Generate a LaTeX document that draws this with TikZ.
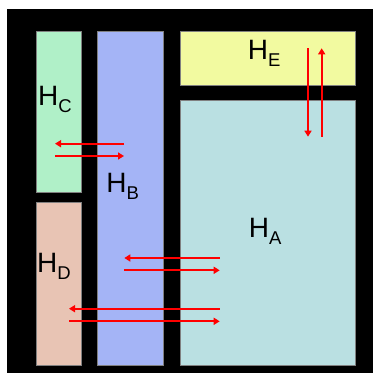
\documentclass[tikz,border=0pt]{standalone}
\usepackage{fontspec}
\setmainfont{Liberation Sans}
\usepackage{xcolor}
\usetikzlibrary{arrows.meta, positioning, calc}
\definecolor{colA}{RGB}{186,224,226}
\definecolor{colB}{RGB}{164,180,246}
\definecolor{colC}{RGB}{176,240,200}
\definecolor{colD}{RGB}{232,196,180}
\definecolor{colE}{RGB}{242,250,160}
\newcommand{\hname}[1]{H\raisebox{-6.8pt}{\fontsize{18.5}{18.5}\selectfont #1}}

\begin{document}
\begin{tikzpicture}[x=1pt, y=1pt,
  box/.style={draw=gray, line width=0.6pt, anchor=north west, inner sep=0pt},
  lbl/.style={anchor=base west, inner sep=0pt, font=\fontsize{28}{28}\selectfont},
  flow/.style={red, line width=2.2pt, -{Triangle[length=6pt, width=7pt]}}]
  \useasboundingbox (0,0) rectangle (373,373);
  \fill[black] (7,0) rectangle (373,363.5);
  % blocks
  \node[box, fill=colC, minimum width=45.3pt, minimum height=161.6pt] (hC) at (36,342.3) {};
  \node[box, fill=colD, minimum width=45.3pt, minimum height=162.7pt] (hD) at (36,171) {};
  \node[box, fill=colB, minimum width=66pt, minimum height=334pt] (hB) at (97.3,342.3) {};
  \node[box, fill=colE, minimum width=174.7pt, minimum height=54pt] (hE) at (180,342.3) {};
  \node[box, fill=colA, minimum width=174.7pt, minimum height=264.7pt] (hA) at (180,273) {};
  % labels
  \node[lbl] (lC) at (38,267) {\hname{C}};
  \node[lbl] (lB) at (106.3,180.3) {\hname{B}};
  \node[lbl] (lD) at (37,100.7) {\hname{D}};
  \node[lbl] (lE) at (247.7,313.7) {\hname{E}};
  \node[lbl] (lA) at (248.7,135.7) {\hname{A}};
  % arrow ends
  \coordinate (cb1) at (124,229.3);  \coordinate (cb2) at (55,229.3);
  \coordinate (cb3) at (55,217);     \coordinate (cb4) at (124,217);
  \coordinate (ab1) at (219.7,115);  \coordinate (ab2) at (124.3,115);
  \coordinate (ab3) at (124.3,102.7);\coordinate (ab4) at (219.7,102.7);
  \coordinate (ad1) at (219.7,64.3); \coordinate (ad2) at (69,64.3);
  \coordinate (ad3) at (69,51.7);    \coordinate (ad4) at (219.7,51.7);
  \coordinate (ea1) at (308,324.7);  \coordinate (ea2) at (308,236.3);
  \coordinate (ea3) at (321.7,236.3);\coordinate (ea4) at (321.7,324.7);
  % flows
  \draw[flow] (cb1) -- (cb2);
  \draw[flow] (cb3) -- (cb4);
  \draw[flow] (ab1) -- (ab2);
  \draw[flow] (ab3) -- (ab4);
  \draw[flow] (ad1) -- (ad2);
  \draw[flow] (ad3) -- (ad4);
  \draw[flow] (ea1) -- (ea2);
  \draw[flow] (ea3) -- (ea4);
\end{tikzpicture}
\end{document}
